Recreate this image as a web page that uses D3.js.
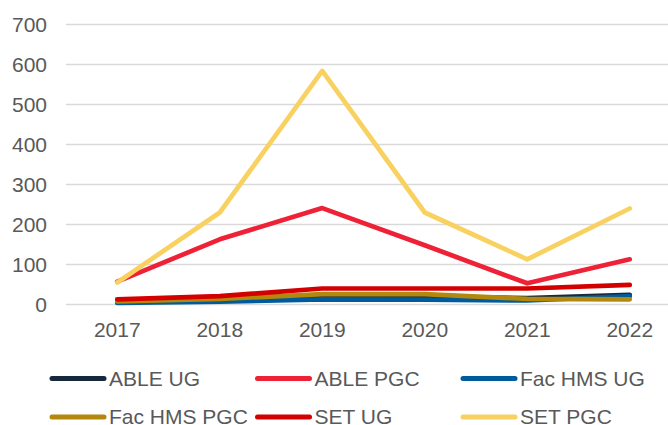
<!DOCTYPE html>
<html>
<head>
<meta charset="utf-8">
<script src="https://cdn.jsdelivr.net/npm/d3@7"></script>
<style>
  body { margin: 0; background: #fff; }
  svg { display: block; font-family: "Liberation Sans", Arial, sans-serif; }
</style>
</head>
<body>
<svg id="chart" width="668" height="425"></svg>
<script>
// data
const years = ["2017", "2018", "2019", "2020", "2021", "2022"];
const yTicks = [0, 100, 200, 300, 400, 500, 600, 700];

const ableUG   = [10, 17, 22, 20, 16, 24];
const ablePGC  = [57, 163, 241, 148, 53, 113];
const facUG    = [4, 7, 13, 12, 10, 21];
const facPGC   = [8, 14, 26, 26, 14, 13];
const setUG    = [13, 21, 40, 40, 40, 49];
const setPGC   = [55, 230, 584, 230, 113, 240];

const seriesNames  = ["ABLE UG", "ABLE PGC", "Fac HMS UG", "Fac HMS PGC", "SET UG", "SET PGC"];
const seriesValues = [ableUG, ablePGC, facUG, facPGC, setUG, setPGC];
const seriesColors = ["#15283c", "#ee2136", "#005b9d", "#b3880c", "#d40000", "#f8d160"];

const svg = d3.select("#chart");
const plotLeft = 66, plotRight = 681, plotTop = 24.5, plotBottom = 304.5;

const x = d3.scalePoint()
    .domain(years)
    .range([plotLeft, plotRight])
    .padding(0.5);

const y = d3.scaleLinear()
    .domain([0, 700])
    .range([plotBottom, plotTop]);

// gridlines
svg.append("g")
    .selectAll("line")
    .data(yTicks)
    .join("line")
    .attr("x1", plotLeft)
    .attr("x2", plotRight)
    .attr("y1", d => y(d))
    .attr("y2", d => y(d))
    .style("stroke", "#d9d9d9")
    .style("stroke-width", 1.3);

// y labels
svg.append("g")
    .selectAll("text")
    .data(yTicks)
    .join("text")
    .attr("x", 47)
    .attr("y", d => y(d))
    .attr("dy", "0.35em")
    .attr("text-anchor", "end")
    .style("font-size", "21px")
    .style("fill", "#595959")
    .text(d => d);

// x labels
svg.append("g")
    .selectAll("text")
    .data(years)
    .join("text")
    .attr("x", d => x(d))
    .attr("y", 337)
    .attr("text-anchor", "middle")
    .style("font-size", "21px")
    .style("fill", "#595959")
    .text(d => d);

// lines
const line = d3.line()
    .x((d, i) => x(years[i]))
    .y(d => y(d));

svg.append("g")
    .selectAll("path")
    .data(seriesValues)
    .join("path")
    .attr("d", line)
    .style("fill", "none")
    .style("stroke", (d, i) => seriesColors[i])
    .style("stroke-width", 4.7)
    .style("stroke-linecap", "round")
    .style("stroke-linejoin", "round");

// legend
const legend = svg.append("g")
    .selectAll("g")
    .data(seriesNames)
    .join("g")
    .attr("transform", (d, i) => `translate(${50 + (i % 3) * 205.5}, ${378.5 + Math.floor(i / 3) * 38.5})`);

legend.append("line")
    .attr("x1", 2)
    .attr("x2", 54)
    .style("stroke", (d, i) => seriesColors[i])
    .style("stroke-width", 5)
    .style("stroke-linecap", "round");

legend.append("text")
    .attr("x", 59)
    .attr("dy", "0.35em")
    .style("font-size", "21px")
    .style("fill", "#595959")
    .text(d => d);
</script>
</body>
</html>
